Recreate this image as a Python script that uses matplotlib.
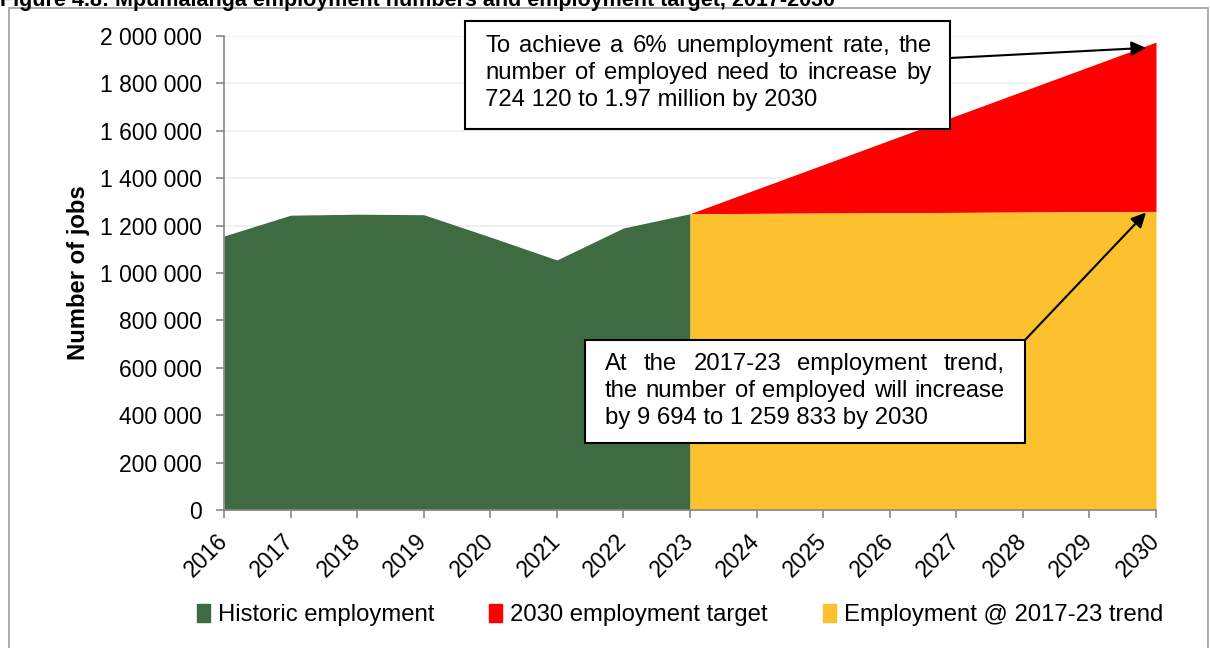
import matplotlib
matplotlib.use("Agg")
import matplotlib.pyplot as plt
from matplotlib.patches import Rectangle, Patch

plt.rcParams['font.family'] = ['Liberation Sans', 'DejaVu Sans']

# Mpumalanga employment, historic and projected
hist_years = [2016, 2017, 2018, 2019, 2020, 2021, 2022, 2023]
hist_jobs = [1156000, 1244000, 1248000, 1246000, 1152000, 1055000, 1190000, 1250139]

proj_years = [2023, 2024, 2025, 2026, 2027, 2028, 2029, 2030]
trend_jobs = [1250139, 1251524, 1252909, 1254294, 1255679, 1257063, 1258448, 1259833]
target_jobs = [1250139, 1353585, 1457031, 1560477, 1663922, 1767368, 1870814, 1974259]

year_ticks = list(range(2016, 2031))
y_ticks = list(range(0, 2000001, 200000))

green = '#3e6b42'
red = '#ff0000'
yellow = '#fdc02e'
FS = 16.5   # tick labels
FS_TXT = 17.2  # legend, axis title, callouts

W, H = 1210, 648
fig = plt.figure(figsize=(W / 100, H / 100), dpi=100)


def fx(x):
    return x / W


def fy(y):
    return 1 - y / H


ax = fig.add_axes([fx(224), fy(510), fx(1156) - fx(224), fy(36) - fy(510)])

ax.fill_between(hist_years, 0, hist_jobs, color=green, lw=0, label='Historic employment')
ax.fill_between(proj_years, trend_jobs, target_jobs, color=red, lw=0, label='2030 employment target')
ax.fill_between(proj_years, 0, trend_jobs, color=yellow, lw=0, label='Employment @ 2017-23 trend')

ax.set_xlim(2016, 2030)
ax.set_ylim(0, 2000000)
ax.set_xticks(year_ticks)
ax.set_xticklabels([str(y) for y in year_ticks], rotation=45, ha='right', va='center',
                   rotation_mode='anchor', fontsize=FS)
ax.set_yticks(y_ticks)
ax.set_yticklabels([f"{v:,}".replace(',', ' ') for v in y_ticks], fontsize=FS)
ax.tick_params(axis='both', color='#888888', length=6, width=1.2)
ax.tick_params(axis='x', pad=14)
ax.tick_params(axis='y', pad=10)
ax.yaxis.grid(True, color='#eeeeee', lw=1.2)
ax.set_axisbelow(True)
for s in ['top', 'right']:
    ax.spines[s].set_visible(False)
for s in ['left', 'bottom']:
    ax.spines[s].set_color('#888888')
    ax.spines[s].set_linewidth(1.2)

fig.text(fx(78), fy(273), 'Number of jobs', rotation=90, ha='center', va='center',
         fontsize=FS_TXT, fontweight='bold')

# outer frame and figure caption
fig.patches.append(Rectangle((fx(9), fy(700)), fx(1208) - fx(9), fy(8) - fy(700),
                             transform=fig.transFigure, fill=False,
                             edgecolor='#a6a6a6', lw=1.3))
fig.text(fx(0), fy(6), 'Figure 4.8: Mpumalanga employment numbers and employment target, 2017-2030',
         ha='left', va='baseline', fontsize=15.5, fontweight='bold')

handles = [Patch(color=green), Patch(color=red), Patch(color=yellow)]
labels = ['Historic employment', '2030 employment target', 'Employment @ 2017-23 trend']
fig.legend(handles, labels, loc='center', bbox_to_anchor=(fx(680), fy(615)), ncol=3,
           frameon=False, fontsize=FS_TXT, handlelength=0.55, handleheight=0.8,
           handletextpad=0.33, columnspacing=2.3)

fig.canvas.draw()
renderer = fig.canvas.get_renderer()


def draw_line(text, x0, x1, y, justify):
    if not justify:
        fig.text(fx(x0), fy(y), text, ha='left', va='center', fontsize=FS_TXT, zorder=6)
        return
    words = text.split(' ')
    objs = [fig.text(0, fy(y), w, ha='left', va='center', fontsize=FS_TXT, zorder=6)
            for w in words]
    widths = [o.get_window_extent(renderer).width for o in objs]
    gap = (x1 - x0 - sum(widths)) / (len(words) - 1)
    x = x0
    for o, w in zip(objs, widths):
        o.set_x(fx(x))
        x += w + gap


def text_box(left, top, right, bottom, lines, x0, x1, y0, dy):
    fig.patches.append(Rectangle((fx(left), fy(bottom)), fx(right) - fx(left),
                                 fy(top) - fy(bottom), transform=fig.transFigure,
                                 facecolor='white', edgecolor='black', lw=1.5, zorder=5))
    for i, (t, j) in enumerate(lines):
        draw_line(t, x0, x1, y0 + i * dy, j)


text_box(465, 21, 950, 129,
         [('To achieve a 6% unemployment rate, the', True),
          ('number of employed need to increase by', True),
          ('724 120 to 1.97 million by 2030', False)],
         485, 932, 46, 27)
text_box(585, 340, 1025, 443,
         [('At the 2017-23 employment trend,', True),
          ('the number of employed will increase', True),
          ('by 9 694 to 1 259 833 by 2030', False)],
         605, 1005, 364, 27)

arrow = dict(arrowstyle='-|>', mutation_scale=22, lw=1.5, color='black',
             shrinkA=0, shrinkB=0)
ax.annotate('', xy=(2029.85, 1950000), xytext=(fx(950), fy(58)),
            textcoords='figure fraction', arrowprops=arrow, annotation_clip=False)
ax.annotate('', xy=(2029.85, 1255000), xytext=(fx(1025), fy(340)),
            textcoords='figure fraction', arrowprops=arrow, annotation_clip=False)

fig.savefig('out.png', dpi=100)
